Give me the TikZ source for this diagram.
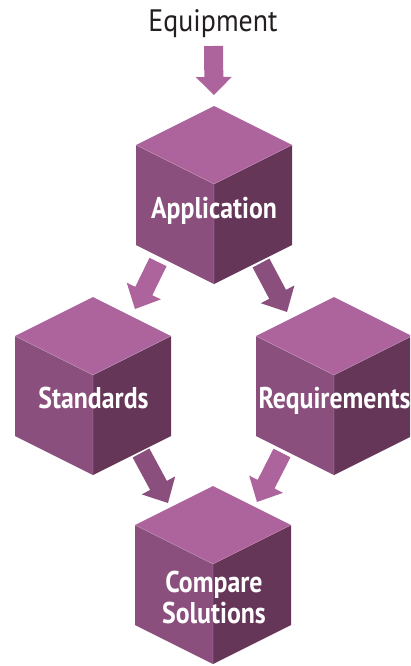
\documentclass[tikz,border=0pt]{standalone}
\usepackage{fontspec}
\usetikzlibrary{calc}
\newfontfamily\labfont[FakeStretch=0.86]{PT Sans Bold}
\newfontfamily\eqfont[FakeStretch=0.9]{PT Sans}
\definecolor{ctop}{HTML}{AD649C}
\definecolor{cleft}{HTML}{8B4F7D}
\definecolor{cright}{HTML}{663659}
\definecolor{cedge}{HTML}{C99BC0}
\definecolor{ctext}{HTML}{231F20}
\tikzset{
  cubetop/.style={fill=ctop},
  cubeleft/.style={fill=cleft},
  cuberight/.style={fill=cright},
  cubeedge/.style={draw=cedge, line width=0.4pt},
  cubelabel/.style={text=white, font=\labfont\fontsize{30}{31}\selectfont, inner sep=0pt, anchor=base},
  lightarrow/.style={fill=ctop},
  darkarrow/.style={fill=cleft},
}
\newcommand\cubeat[1]{%
  \fill[cubetop] (#1) -- ++(78,39) -- ++(-78,39) -- ++(-78,-39) -- cycle;
  \fill[cubeleft] ($(#1)+(-78,39)$) -- ++(78,39) -- ++(0,100) -- ++(-78,-39) -- cycle;
  \fill[cuberight] ($(#1)+(0,78)$) -- ++(78,-39) -- ++(0,100) -- ++(-78,39) -- cycle;
  \draw[cubeedge] ($(#1)+(-78,39)$) -- ++(78,39) -- ++(78,-39) ($(#1)+(0,78)$) -- ++(0,100);
}
\newcommand\blockarrow[5]{% start, tip, style, half head width, head length
  \coordinate (hb) at ($(#2)!#5pt!(#1)$);
  \fill[#3] ($(#1)!9.5pt!90:(#2)$) -- ($(hb)!9.5pt!90:(#2)$) -- ($(hb)!#4pt!90:(#2)$) -- (#2)
    -- ($(hb)!#4pt!-90:(#2)$) -- ($(hb)!9.5pt!-90:(#2)$) -- ($(#1)!9.5pt!-90:(#2)$) -- cycle;
}
\begin{document}
\begin{tikzpicture}[x=1pt,y=-1pt]
\useasboundingbox (0,0) rectangle (410,666);
% cube top vertices
\coordinate (app) at (214,106);
\coordinate (std) at (93,297);
\coordinate (req) at (334,297);
\coordinate (cmp) at (213,486);
\begin{scope}
\clip (0,0) rectangle (410,666);
\cubeat{app}
\cubeat{std}
\cubeat{req}
\cubeat{cmp}
\end{scope}
% labels
\node[text=ctext, font=\eqfont\fontsize{31}{32}\selectfont, inner sep=0pt, anchor=base] (equip) at (213,32) {Equipment};
\node[cubelabel] (appl) at (214,218) {Application};
\node[cubelabel] (stdl) at (93.5,408) {Standards};
\node[cubelabel] (reql) at (334.5,408) {Requirements};
\node[cubelabel] (cmpl1) at (214,592) {Compare};
\node[cubelabel] (cmpl2) at (214,623) {Solutions};
% arrows
\coordinate (e1) at (213.5,46);  \coordinate (e2) at (214,95);
\coordinate (a1) at (158,262);   \coordinate (a2) at (135,309);
\coordinate (b1) at (261,263);   \coordinate (b2) at (287,312);
\coordinate (c1) at (141,453);   \coordinate (c2) at (168,503);
\coordinate (d1) at (282,453);   \coordinate (d2) at (257,502);
\blockarrow{e1}{e2}{lightarrow}{18}{18}
\blockarrow{a1}{a2}{lightarrow}{19}{20}
\blockarrow{b1}{b2}{darkarrow}{19}{20}
\blockarrow{c1}{c2}{darkarrow}{19}{20}
\blockarrow{d1}{d2}{lightarrow}{19}{20}
\end{tikzpicture}
\end{document}
